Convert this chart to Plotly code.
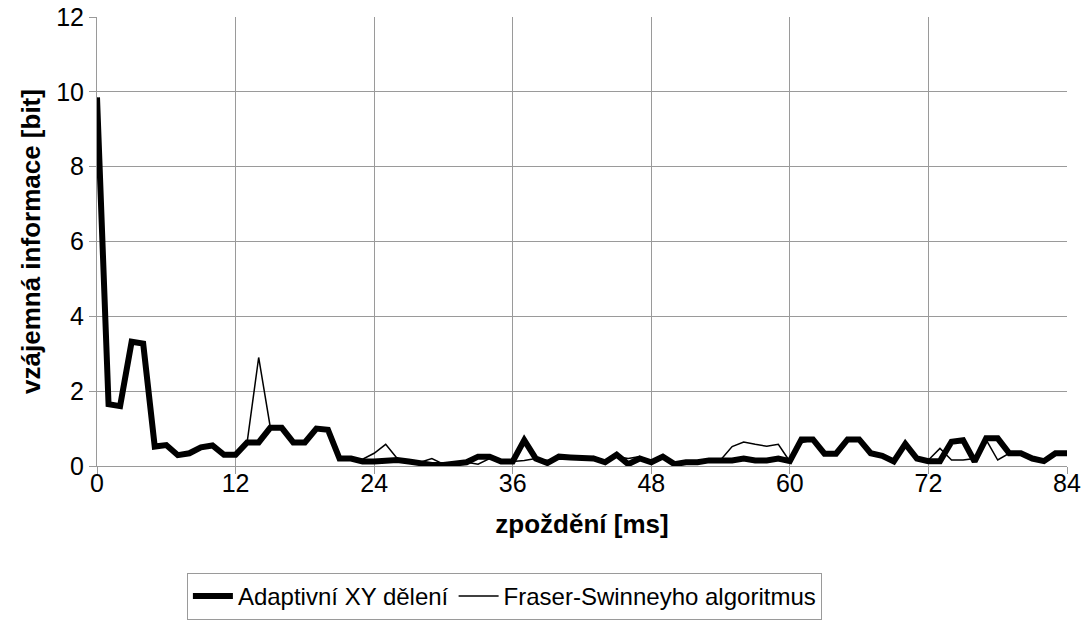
import plotly.graph_objects as go

lag_ms = list(range(0, 85))

adaptive_xy = [
    9.85, 1.65, 1.6, 3.32, 3.27, 0.52, 0.56, 0.29, 0.34, 0.5,
    0.55, 0.3, 0.3, 0.63, 0.63, 1.02, 1.02, 0.63, 0.63, 1.0,
    0.97, 0.2, 0.2, 0.12, 0.12, 0.16, 0.16, 0.12, 0.07, 0.03,
    0.03, 0.08, 0.1, 0.25, 0.25, 0.12, 0.12, 0.69, 0.2, 0.08,
    0.25, 0.23, 0.23, 0.2, 0.1, 0.3, 0.05, 0.2, 0.1, 0.25,
    0.05, 0.1, 0.1, 0.15, 0.15, 0.15, 0.2, 0.15, 0.15, 0.2,
    0.13, 0.71, 0.71, 0.33, 0.33, 0.71, 0.71, 0.34, 0.27, 0.12,
    0.59, 0.2, 0.13, 0.13, 0.65, 0.69, 0.12, 0.74, 0.74, 0.34,
    0.34, 0.2, 0.13, 0.34, 0.34,
]

fraser_swinney = [
    9.85, 1.65, 1.6, 3.32, 3.27, 0.52, 0.56, 0.29, 0.34, 0.5,
    0.55, 0.3, 0.3, 0.63, 2.9, 1.05, 1.02, 0.63, 0.63, 1.0,
    0.97, 0.2, 0.2, 0.18, 0.34, 0.58, 0.2, 0.15, 0.1, 0.2,
    0.05, 0.1, 0.1, 0.05, 0.2, 0.12, 0.12, 0.15, 0.2, 0.15,
    0.2, 0.2, 0.2, 0.25, 0.1, 0.25, 0.2, 0.25, 0.1, 0.25,
    0.05, 0.1, 0.1, 0.15, 0.16, 0.52, 0.64, 0.58, 0.53, 0.58,
    0.12, 0.62, 0.7, 0.33, 0.33, 0.71, 0.71, 0.34, 0.27, 0.12,
    0.59, 0.2, 0.16, 0.47, 0.16, 0.16, 0.2, 0.7, 0.16, 0.34,
    0.34, 0.2, 0.13, 0.34, 0.34,
]

x_ticks = [0, 12, 24, 36, 48, 60, 72, 84]
y_ticks = [0, 2, 4, 6, 8, 10, 12]

FONT = "Liberation Sans, Arial, sans-serif"
GRID = "#9a9a9a"

fig = go.Figure()
fig.add_trace(go.Scatter(
    x=lag_ms, y=adaptive_xy, mode="lines", name="Adaptivní XY dělení",
    line=dict(color="black", width=6),
))
fig.add_trace(go.Scatter(
    x=lag_ms, y=fraser_swinney, mode="lines", name="Fraser-Swinneyho algoritmus",
    line=dict(color="black", width=1.5),
))

fig.update_layout(
    width=1090, height=622,
    margin=dict(l=97, r=23, t=17, b=156, autoexpand=False),
    paper_bgcolor="white", plot_bgcolor="white",
    font=dict(family=FONT, size=25, color="black"),
    showlegend=True,
    legend=dict(
        orientation="h", x=0.42, xanchor="center", y=-0.238, yanchor="top",
        bordercolor="#9a9a9a", borderwidth=1, font=dict(size=24),
        itemwidth=40, tracegroupgap=0,
    ),
    xaxis=dict(
        range=[0, 84], tickvals=x_ticks, ticktext=[str(v) for v in x_ticks],
        showgrid=True, gridcolor=GRID, gridwidth=1,
        showline=True, linecolor=GRID, linewidth=1, mirror=False,
        ticks="outside", ticklen=7, tickcolor=GRID, automargin=False,
        zeroline=False, tickfont=dict(size=25), ticklabelstandoff=-12,
        title=dict(text="<b>zpoždění [ms]</b>", font=dict(size=26), standoff=18),
    ),
    yaxis=dict(
        range=[0, 12], tickvals=y_ticks, ticktext=[str(v) for v in y_ticks],
        showgrid=True, gridcolor=GRID, gridwidth=1,
        showline=True, linecolor=GRID, linewidth=1, automargin=False,
        ticks="outside", ticklen=7, tickcolor=GRID,
        zeroline=False, tickfont=dict(size=25),
        title=dict(text="<b>vzájemná informace [bit]</b>", font=dict(size=26), standoff=8),
    ),
)

fig.write_html("out.html")
